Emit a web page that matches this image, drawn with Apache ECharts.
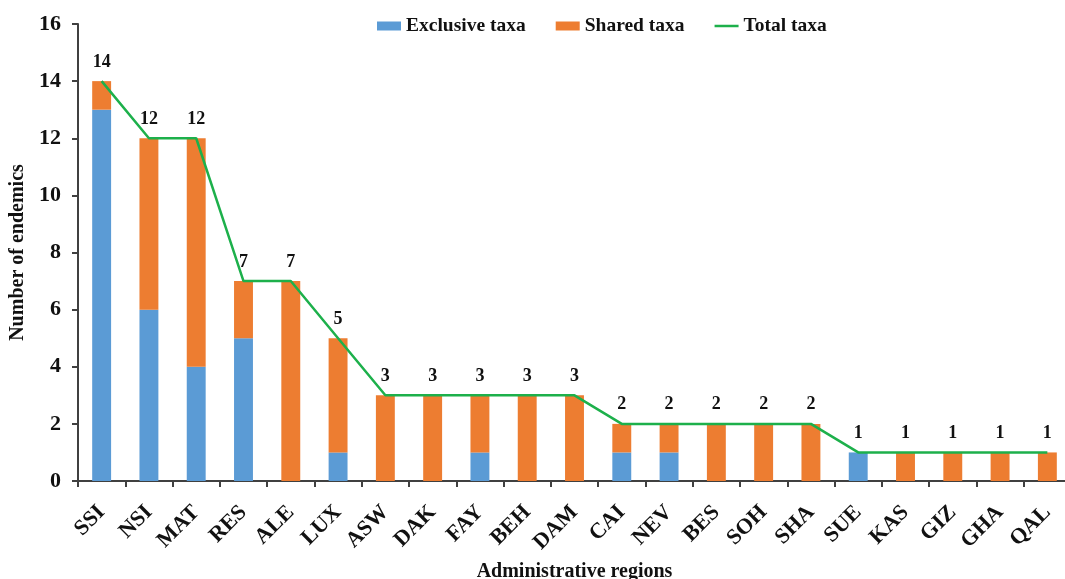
<!DOCTYPE html>
<html>
<head>
<meta charset="utf-8">
<script src="https://cdn.jsdelivr.net/npm/echarts@6/dist/echarts.min.js"></script>
<style>
  html, body { margin: 0; padding: 0; background: #fff; }
  #main { width: 1065px; height: 579px; }
</style>
</head>
<body>
<div id="main"></div>
<script>
// administrative regions and endemic counts
const regions = ['SSI', 'NSI', 'MAT', 'RES', 'ALE', 'LUX', 'ASW', 'DAK', 'FAY', 'BEH', 'DAM',
  'CAI', 'NEV', 'BES', 'SOH', 'SHA', 'SUE', 'KAS', 'GIZ', 'GHA', 'QAL'];
const exclusiveTaxa = [13, 6, 4, 5, 0, 1, 0, 0, 1, 0, 0, 1, 1, 0, 0, 0, 1, 0, 0, 0, 0];
const sharedTaxa = [1, 6, 8, 2, 7, 4, 3, 3, 2, 3, 3, 1, 1, 2, 2, 2, 0, 1, 1, 1, 1];
const totalTaxa = [14, 12, 12, 7, 7, 5, 3, 3, 3, 3, 3, 2, 2, 2, 2, 2, 1, 1, 1, 1, 1];

const serif = '"Liberation Serif", "Times New Roman", serif';
const axisColor = '#404040';
const green = '#1DB04B';

const chart = echarts.init(document.getElementById('main'));
chart.setOption({
  animation: false,
  textStyle: { fontFamily: serif },
  legend: {
    top: 11,
    left: 372,
    itemGap: 30,
    itemWidth: 24,
    itemHeight: 9,
    textStyle: { fontFamily: serif, fontWeight: 'bold', fontSize: 19.5, color: '#111' },
    data: [
      { name: 'Exclusive taxa', icon: 'rect' },
      { name: 'Shared taxa', icon: 'rect' },
      { name: 'Total taxa', icon: 'path://M0,0 H24 V2.5 H0 Z', itemStyle: { color: green } }
    ]
  },
  grid: { left: 78, right: -6, top: 24, bottom: 98, outerBoundsMode: 'none', containLabel: false },
  xAxis: {
    type: 'category',
    data: regions,
    name: 'Administrative regions',
    nameLocation: 'middle',
    nameGap: 81,
    nameTextStyle: { fontFamily: serif, fontWeight: 'bold', fontSize: 20, color: '#111' },
    axisLine: { lineStyle: { color: axisColor, width: 2 } },
    axisTick: { show: true, alignWithLabel: false, length: 6, lineStyle: { color: axisColor, width: 2 } },
    axisLabel: {
      rotate: 45,
      margin: 28,
      fontFamily: serif,
      fontWeight: 'bold',
      fontSize: 22,
      color: '#111'
    }
  },
  yAxis: {
    type: 'value',
    min: 0,
    max: 16,
    interval: 2,
    name: 'Number of endemics',
    nameLocation: 'middle',
    nameGap: 41,
    nameTextStyle: { fontFamily: serif, fontWeight: 'bold', fontSize: 20, color: '#111' },
    splitLine: { show: false },
    axisLine: { show: true, lineStyle: { color: axisColor, width: 2 } },
    axisTick: { show: true, length: 6, lineStyle: { color: axisColor, width: 2 } },
    axisLabel: { margin: 17, fontFamily: serif, fontWeight: 'bold', fontSize: 22, color: '#111' }
  },
  series: [
    {
      name: 'Exclusive taxa',
      type: 'bar',
      stack: 'taxa',
      barWidth: '40%',
      itemStyle: { color: '#5B9BD5' },
      data: exclusiveTaxa
    },
    {
      name: 'Shared taxa',
      type: 'bar',
      stack: 'taxa',
      barWidth: '40%',
      itemStyle: { color: '#ED7D31' },
      data: sharedTaxa
    },
    {
      name: 'Total taxa',
      type: 'line',
      symbol: 'circle',
      symbolSize: 0.1,
      showSymbol: true,
      lineStyle: { color: green, width: 2.5 },
      itemStyle: { color: green },
      label: {
        show: true,
        position: 'top',
        distance: 10,
        fontFamily: serif,
        fontWeight: 'bold',
        fontSize: 18,
        color: '#111'
      },
      data: totalTaxa
    }
  ]
});
</script>
</body>
</html>
